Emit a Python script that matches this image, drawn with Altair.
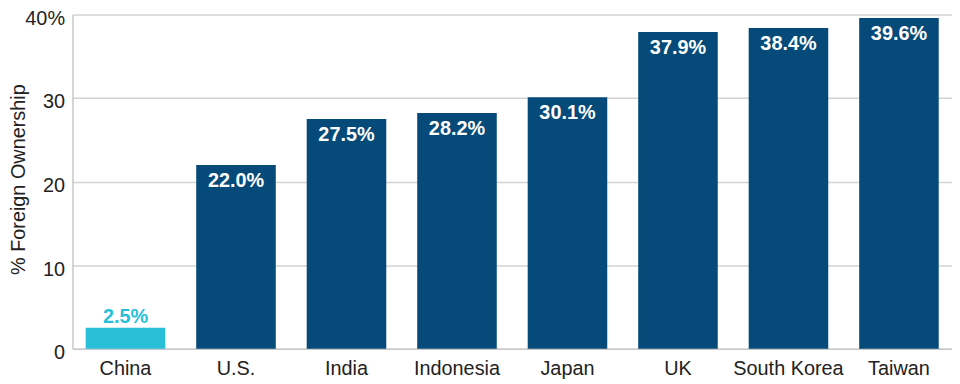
import altair as alt
import pandas as pd

countries = ["China", "U.S.", "India", "Indonesia", "Japan", "UK", "South Korea", "Taiwan"]
values = [2.5, 22.0, 27.5, 28.2, 30.1, 37.9, 38.4, 39.6]

df = pd.DataFrame({"country": countries, "value": values})
df["label"] = [f"{v:.1f}%" for v in values]

BLUE = "#054a78"
CYAN = "#29bfd9"
FONT = "Liberation Sans"
TXT = "#222222"

base = alt.Chart(df).encode(
    x=alt.X("country:N", sort=countries, title=None,
            scale=alt.Scale(paddingInner=0.28, paddingOuter=0.12),
            axis=alt.Axis(labelAngle=0, ticks=False, domain=True, domainColor="#c8c8c8",
                          domainWidth=1.5, labelPadding=10, labelFontSize=20,
                          labelFont=FONT, labelColor=TXT)),
    y=alt.Y("value:Q", title="% Foreign Ownership",
            scale=alt.Scale(domain=[0, 40], nice=False),
            axis=alt.Axis(values=[0, 10, 20, 30, 40], ticks=False, domain=True,
                          domainColor="#c8c8c8", domainWidth=1.5,
                          gridColor="#d3d3d3", gridWidth=1.5,
                          labelExpr="datum.value == 40 ? '40%' : datum.label",
                          labelPadding=8, labelFontSize=20, labelFont=FONT,
                          labelOffset=4, labelColor=TXT,
                          titleFont=FONT, titleFontSize=20,
                          titleFontWeight="normal", titleColor=TXT,
                          titleX=-48, titleY=166, titleBaseline="alphabetic", titleAngle=270)),
)

bars = base.mark_bar().encode(
    color=alt.condition(alt.datum.country == "China", alt.value(CYAN), alt.value(BLUE))
)

inside = base.transform_filter(alt.datum.value > 5).mark_text(
    color="white", fontWeight="bold", fontSize=20, font=FONT, baseline="middle", dy=16
).encode(text="label:N")

above = base.transform_filter(alt.datum.value <= 5).mark_text(
    color=CYAN, fontWeight="bold", fontSize=20, font=FONT, baseline="middle", dy=-11
).encode(text="label:N")

chart = (bars + inside + above).properties(
    width=887, height=337,
    autosize=alt.AutoSizeParams(type="none"),
    padding={"left": 65, "top": 5, "right": 0, "bottom": 34},
).configure_view(stroke=None)

chart.save("out.html", embed_options={"renderer": "svg", "actions": False})
